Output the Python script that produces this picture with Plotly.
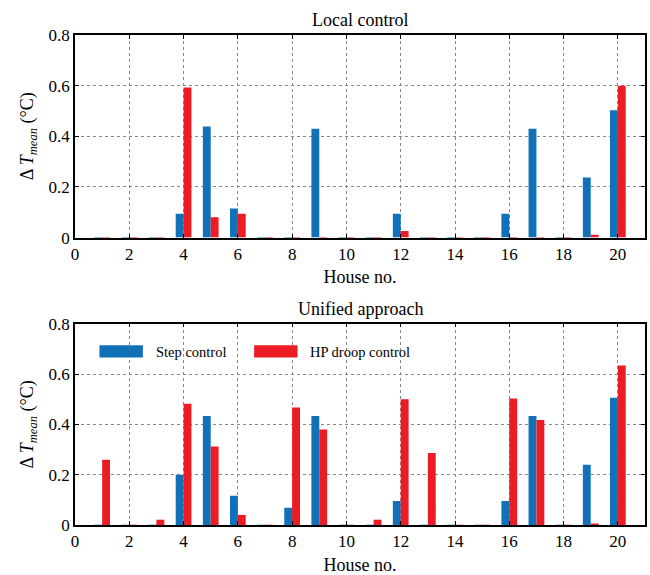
import plotly.graph_objects as go

houses = list(range(1, 21))
local_step = [0.001, 0.001, 0.001, 0.094, 0.439, 0.115, 0.001, 0.001, 0.430, 0.001,
              0.001, 0.094, 0.001, 0.001, 0.001, 0.094, 0.430, 0.001, 0.237, 0.503]
local_droop = [0.001, 0.001, 0.001, 0.593, 0.080, 0.094, 0.001, 0.001, 0.001, 0.001,
               0.001, 0.026, 0.001, 0.001, 0.001, 0.001, 0.001, 0.001, 0.011, 0.600]
unified_step = [0.001, 0.001, 0.001, 0.200, 0.433, 0.116, 0.001, 0.069, 0.433, 0.001,
                0.001, 0.095, 0.001, 0.001, 0.001, 0.095, 0.433, 0.001, 0.239, 0.506]
unified_droop = [0.259, 0.001, 0.021, 0.482, 0.312, 0.040, 0.001, 0.467, 0.380, 0.001,
                 0.021, 0.500, 0.286, 0.001, 0.001, 0.503, 0.417, 0.001, 0.006, 0.634]
x_ticks = [0, 2, 4, 6, 8, 10, 12, 14, 16, 18, 20]
y_ticks = [0, 0.2, 0.4, 0.6, 0.8]
y_tick_labels = ["0", "0.2", "0.4", "0.6", "0.8"]
titles = ["Local control", "Unified approach"]
legend_names = ["Step control", "HP droop control"]

BLUE = "#1070b8"
RED = "#ec1c24"
FONT = "Liberation Serif, Times New Roman, serif"

fig = go.Figure()
fig.add_trace(go.Bar(x=houses, y=local_step, marker=dict(color=BLUE, line=dict(width=0)),
                     xaxis="x", yaxis="y", showlegend=False, offsetgroup="a"))
fig.add_trace(go.Bar(x=houses, y=local_droop, marker=dict(color=RED, line=dict(width=0)),
                     xaxis="x", yaxis="y", showlegend=False, offsetgroup="b"))
fig.add_trace(go.Bar(x=houses, y=unified_step, marker=dict(color=BLUE, line=dict(width=0)),
                     xaxis="x2", yaxis="y2", showlegend=False, offsetgroup="a"))
fig.add_trace(go.Bar(x=houses, y=unified_droop, marker=dict(color=RED, line=dict(width=0)),
                     xaxis="x2", yaxis="y2", showlegend=False, offsetgroup="b"))

top_dom = [0.5866, 1.0]
bot_dom = [0.0, 0.4108]

axis_common = dict(
    showline=True, linecolor="black", linewidth=1.5, mirror="ticks",
    ticks="inside", ticklen=4, tickcolor="black",
    showgrid=True, gridcolor="#888888", griddash="dot", gridwidth=1,
    zeroline=False, tickfont=dict(family=FONT, size=17, color="black"),
)
ytitle = "Δ <i>T</i><sub><i>mean</i></sub> (°C)"
title_font = dict(family=FONT, size=18, color="black")

fig.update_layout(
    width=650, height=575,
    margin=dict(l=75, r=3, t=35, b=50),
    paper_bgcolor="white", plot_bgcolor="white",
    barmode="group", bargap=0.42, bargroupgap=0.0,
    font=dict(family=FONT, color="black"),
    xaxis=dict(axis_common, domain=[0, 1], range=[0, 21], tickvals=x_ticks, anchor="y",
               title=dict(text="House no.", font=title_font, standoff=8)),
    yaxis=dict(axis_common, domain=top_dom, range=[0, 0.8], tickvals=y_ticks,
               ticktext=y_tick_labels, anchor="x",
               title=dict(text=ytitle, font=title_font, standoff=10)),
    xaxis2=dict(axis_common, domain=[0, 1], range=[0, 21], tickvals=x_ticks, anchor="y2",
                title=dict(text="House no.", font=title_font, standoff=8)),
    yaxis2=dict(axis_common, domain=bot_dom, range=[0, 0.8], tickvals=y_ticks,
                ticktext=y_tick_labels, anchor="x2",
                title=dict(text=ytitle, font=title_font, standoff=10)),
)

# subplot titles
for t, dom in zip(titles, [top_dom, bot_dom]):
    fig.add_annotation(text=t, xref="paper", yref="paper", x=0.5, y=dom[1],
                       yshift=3, showarrow=False, xanchor="center", yanchor="bottom",
                       font=title_font)

# manual legend in bottom panel
for name, color, x0 in zip(legend_names, [BLUE, RED], [0.9, 6.6]):
    fig.add_shape(type="rect", xref="x2", yref="y2", x0=x0, x1=x0 + 1.6,
                  y0=0.666, y1=0.714, fillcolor=color, line=dict(width=0))
    fig.add_annotation(text=name, xref="x2", yref="y2", x=x0 + 2.0, y=0.688,
                       showarrow=False, xanchor="left", yanchor="middle",
                       font=dict(family=FONT, size=14.5, color="black"))

fig.write_html("out.html")
